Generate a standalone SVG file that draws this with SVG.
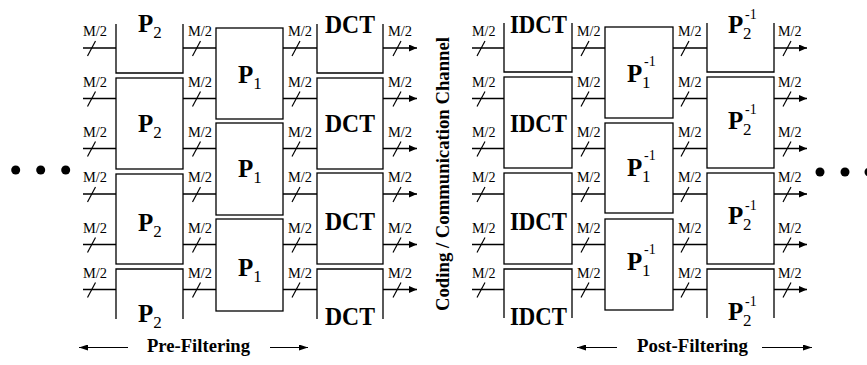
<svg xmlns="http://www.w3.org/2000/svg" width="867" height="365" viewBox="0 0 867 365">
  <style>
    .box { fill: none; stroke: #000; stroke-width: 1.3; }
    .wire { fill: none; stroke: #000; stroke-width: 1.3; marker-end: url(#ah); }
    .thin { fill: none; stroke: #000; stroke-width: 1.1; marker-end: url(#ahs); }
    .slash { stroke: #000; stroke-width: 1.2; }
    text { font-family: "Liberation Serif", "Times New Roman", serif; fill: #000; }
    .lbl { font-size: 25px; font-weight: bold; }
    .sub { font-size: 17px; }
    .sup { font-size: 14px; }
    .m2 { font-size: 14px; }
    .cap { font-size: 18px; font-weight: bold; }
    .dot { fill: #000; }
  </style>
  <defs>
    <marker id="ah" markerUnits="userSpaceOnUse" markerWidth="8" markerHeight="7" refX="8" refY="3.5" orient="auto">
      <path d="M0,0 L8,3.5 L0,7 z" fill="#000"/>
    </marker>
    <marker id="ahs" markerUnits="userSpaceOnUse" markerWidth="9" markerHeight="6" refX="9" refY="3" orient="auto">
      <path d="M0,0 L9,3 L0,6 z" fill="#000"/>
    </marker>
    <!-- M/2 label plus bus slash, drawn relative to the wire's y -->
    <g id="bus-left">
      <text class="m2" x="83" y="-12" textLength="24" lengthAdjust="spacingAndGlyphs">M/2</text>
      <line class="slash" x1="87.5" y1="8" x2="95.5" y2="-7"/>
      <text class="m2" x="188" y="-12" textLength="24" lengthAdjust="spacingAndGlyphs">M/2</text>
      <line class="slash" x1="192.5" y1="8" x2="200.5" y2="-7"/>
      <text class="m2" x="288" y="-12" textLength="24" lengthAdjust="spacingAndGlyphs">M/2</text>
      <line class="slash" x1="292" y1="8" x2="300" y2="-7"/>
      <text class="m2" x="388" y="-12" textLength="24" lengthAdjust="spacingAndGlyphs">M/2</text>
      <line class="slash" x1="393" y1="8" x2="401" y2="-7"/>
    </g>
    <g id="bus-right">
      <text class="m2" x="472" y="-12" textLength="23.5" lengthAdjust="spacingAndGlyphs">M/2</text>
      <line class="slash" x1="477" y1="8" x2="485" y2="-7"/>
      <text class="m2" x="577" y="-12" textLength="23.5" lengthAdjust="spacingAndGlyphs">M/2</text>
      <line class="slash" x1="581" y1="8" x2="589" y2="-7"/>
      <text class="m2" x="678" y="-12" textLength="23.5" lengthAdjust="spacingAndGlyphs">M/2</text>
      <line class="slash" x1="681" y1="8" x2="689" y2="-7"/>
      <text class="m2" x="778" y="-12" textLength="23.5" lengthAdjust="spacingAndGlyphs">M/2</text>
      <line class="slash" x1="783" y1="8" x2="791" y2="-7"/>
    </g>
  </defs>
  <rect width="867" height="365" fill="#fff"/>

  <!-- continuation dots -->
  <g id="dots-left">
    <circle class="dot" cx="15.7" cy="170" r="4.5"/>
    <circle class="dot" cx="40.7" cy="170" r="4.5"/>
    <circle class="dot" cx="65.7" cy="170" r="4.5"/>
  </g>
  <g id="dots-right">
    <circle class="dot" cx="820" cy="172" r="4.5"/>
    <circle class="dot" cx="845" cy="172" r="4.5"/>
    <circle class="dot" cx="869" cy="172" r="4.5"/>
  </g>

  <!-- pre-filtering stage: P2 -->
  <g id="p2-a"><path class="box" d="M116,24 V73 H183 V24"/><text class="lbl" x="138" y="32">P</text><text class="sub" x="153.3" y="38">2</text></g>
  <g id="p2-b"><rect class="box" x="116" y="78" width="67" height="91"/><text class="lbl" x="138" y="132">P</text><text class="sub" x="153.3" y="138">2</text></g>
  <g id="p2-c"><rect class="box" x="116" y="174" width="67" height="90"/><text class="lbl" x="138" y="231">P</text><text class="sub" x="153.3" y="237">2</text></g>
  <g id="p2-d"><path class="box" d="M116,319 V269 H183 V319"/><text class="lbl" x="138" y="322">P</text><text class="sub" x="153.3" y="328">2</text></g>

  <!-- pre-filtering stage: P1 -->
  <g id="p1-a"><rect class="box" x="216" y="28" width="67" height="91"/><text class="lbl" x="238" y="83">P</text><text class="sub" x="253.3" y="89">1</text></g>
  <g id="p1-b"><rect class="box" x="216" y="123" width="67" height="92"/><text class="lbl" x="238" y="177">P</text><text class="sub" x="253.3" y="183">1</text></g>
  <g id="p1-c"><rect class="box" x="216" y="219" width="67" height="92"/><text class="lbl" x="238" y="276">P</text><text class="sub" x="253.3" y="282">1</text></g>

  <!-- DCT blocks -->
  <g id="dct-a"><path class="box" d="M317,24 V73 H383 V24"/><text class="lbl" x="325" y="33" textLength="50" lengthAdjust="spacingAndGlyphs">DCT</text></g>
  <g id="dct-b"><rect class="box" x="317" y="78" width="66" height="91"/><text class="lbl" x="325" y="132" textLength="50" lengthAdjust="spacingAndGlyphs">DCT</text></g>
  <g id="dct-c"><rect class="box" x="317" y="173" width="66" height="91"/><text class="lbl" x="325" y="230" textLength="50" lengthAdjust="spacingAndGlyphs">DCT</text></g>
  <g id="dct-d"><path class="box" d="M317,319 V269 H383 V319"/><text class="lbl" x="325" y="325" textLength="50" lengthAdjust="spacingAndGlyphs">DCT</text></g>

  <!-- channel -->
  <g id="channel"><text class="cap" x="449" y="174" text-anchor="middle" textLength="274" lengthAdjust="spacingAndGlyphs" transform="rotate(-90 449 174)">Coding / Communication Channel</text></g>

  <!-- IDCT blocks -->
  <g id="idct-a"><path class="box" d="M504,23 V72 H572 V23"/><text class="lbl" x="510" y="33" textLength="57" lengthAdjust="spacingAndGlyphs">IDCT</text></g>
  <g id="idct-b"><rect class="box" x="504" y="77" width="68" height="91"/><text class="lbl" x="510" y="132" textLength="57" lengthAdjust="spacingAndGlyphs">IDCT</text></g>
  <g id="idct-c"><rect class="box" x="504" y="173" width="68" height="91"/><text class="lbl" x="510" y="230" textLength="57" lengthAdjust="spacingAndGlyphs">IDCT</text></g>
  <g id="idct-d"><path class="box" d="M504,318 V269 H572 V318"/><text class="lbl" x="510" y="325" textLength="57" lengthAdjust="spacingAndGlyphs">IDCT</text></g>

  <!-- post-filtering stage: inverse P1 -->
  <g id="p1inv-a"><rect class="box" x="605" y="27" width="68" height="91"/><text class="lbl" x="627" y="82">P</text><text class="sub" x="642" y="88">1</text><text class="sup" x="644" y="66">-1</text></g>
  <g id="p1inv-b"><rect class="box" x="605" y="123" width="68" height="90"/><text class="lbl" x="627" y="176">P</text><text class="sub" x="642" y="182">1</text><text class="sup" x="644" y="160">-1</text></g>
  <g id="p1inv-c"><rect class="box" x="605" y="219" width="68" height="91"/><text class="lbl" x="627" y="270">P</text><text class="sub" x="642" y="276">1</text><text class="sup" x="644" y="254">-1</text></g>

  <!-- post-filtering stage: inverse P2 -->
  <g id="p2inv-a"><path class="box" d="M707,23 V72 H774 V23"/><text class="lbl" x="728" y="33">P</text><text class="sub" x="743" y="39">2</text><text class="sup" x="745" y="19">-1</text></g>
  <g id="p2inv-b"><rect class="box" x="707" y="77" width="67" height="91"/><text class="lbl" x="728" y="129">P</text><text class="sub" x="743" y="135">2</text><text class="sup" x="745" y="114">-1</text></g>
  <g id="p2inv-c"><rect class="box" x="707" y="173" width="67" height="91"/><text class="lbl" x="728" y="224">P</text><text class="sub" x="743" y="230">2</text><text class="sup" x="745" y="210">-1</text></g>
  <g id="p2inv-d"><path class="box" d="M707,318 V269 H774 V318"/><text class="lbl" x="728" y="320">P</text><text class="sub" x="743" y="326">2</text><text class="sup" x="745" y="306">-1</text></g>

  <!-- M/2 wires: each row, each column -->
  <g id="connectors">
    <!-- rows y: 48, 98.5, 148.5, 194, 244.5, 289.5 -->
    <g id="wires-left">
      <path class="wire" d="M83,48 H116 M183,48 H216 M283,48 H317 M383,48 H417"/>
      <path class="wire" d="M83,98.5 H116 M183,98.5 H216 M283,98.5 H317 M383,98.5 H417"/>
      <path class="wire" d="M83,148.5 H116 M183,148.5 H216 M283,148.5 H317 M383,148.5 H417"/>
      <path class="wire" d="M83,194 H116 M183,194 H216 M283,194 H317 M383,194 H417"/>
      <path class="wire" d="M83,244.5 H116 M183,244.5 H216 M283,244.5 H317 M383,244.5 H417"/>
      <path class="wire" d="M83,289.5 H116 M183,289.5 H216 M283,289.5 H317 M383,289.5 H417"/>
    </g>
    <g id="wires-right">
      <path class="wire" d="M472,48 H504 M572,48 H605 M673,48 H707 M774,48 H807"/>
      <path class="wire" d="M472,98.5 H504 M572,98.5 H605 M673,98.5 H707 M774,98.5 H807"/>
      <path class="wire" d="M472,148.5 H504 M572,148.5 H605 M673,148.5 H707 M774,148.5 H807"/>
      <path class="wire" d="M472,194 H504 M572,194 H605 M673,194 H707 M774,194 H807"/>
      <path class="wire" d="M472,244.5 H504 M572,244.5 H605 M673,244.5 H707 M774,244.5 H807"/>
      <path class="wire" d="M472,289.5 H504 M572,289.5 H605 M673,289.5 H707 M774,289.5 H807"/>
    </g>
    <g id="bus-labels">
      <use href="#bus-left" transform="translate(0,48)"/>
      <use href="#bus-left" transform="translate(0,98.5)"/>
      <use href="#bus-left" transform="translate(0,148.5)"/>
      <use href="#bus-left" transform="translate(0,194)"/>
      <use href="#bus-left" transform="translate(0,244.5)"/>
      <use href="#bus-left" transform="translate(0,289.5)"/>
      <use href="#bus-right" transform="translate(0,48)"/>
      <use href="#bus-right" transform="translate(0,98.5)"/>
      <use href="#bus-right" transform="translate(0,148.5)"/>
      <use href="#bus-right" transform="translate(0,194)"/>
      <use href="#bus-right" transform="translate(0,244.5)"/>
      <use href="#bus-right" transform="translate(0,289.5)"/>
    </g>
  </g>

  <!-- stage captions -->
  <g id="caption-pre">
    <path class="thin" d="M128,347.5 H79"/>
    <text class="cap" x="147" y="352" textLength="103" lengthAdjust="spacingAndGlyphs">Pre-Filtering</text>
    <path class="thin" d="M270,347.5 H308"/>
  </g>
  <g id="caption-post">
    <path class="thin" d="M617,347.5 H577"/>
    <text class="cap" x="637" y="352" textLength="111" lengthAdjust="spacingAndGlyphs">Post-Filtering</text>
    <path class="thin" d="M762,347.5 H812"/>
  </g>
</svg>
